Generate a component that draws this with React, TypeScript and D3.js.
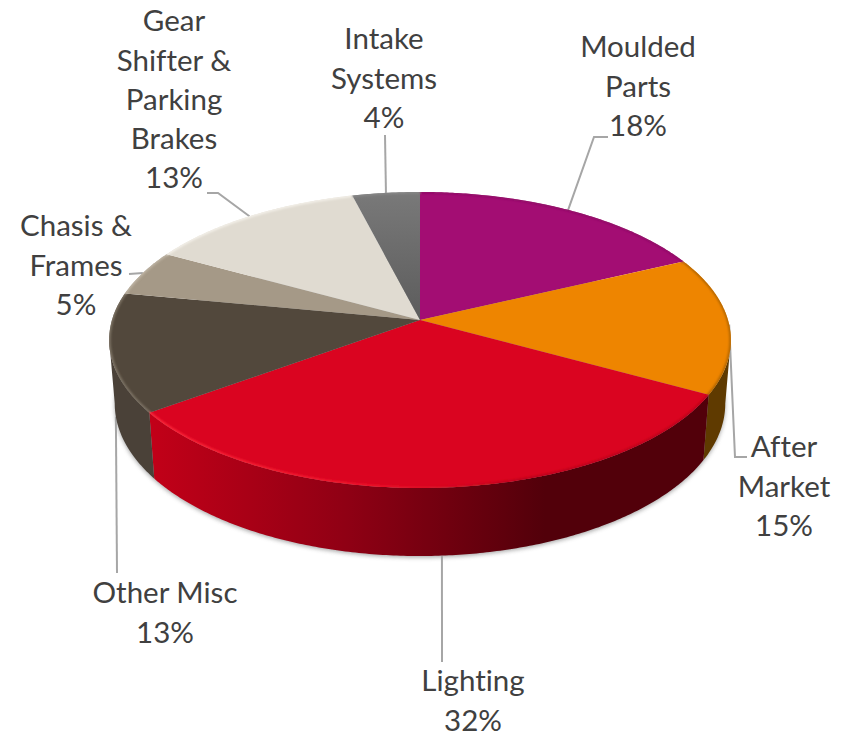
import * as d3 from 'd3';

const categories = ['Moulded Parts', 'After Market', 'Lighting', 'Other Misc', 'Chasis & Frames', 'Gear Shifter & Parking Brakes', 'Intake Systems'];
const shares = [18, 15, 32, 13, 5, 13, 4];

// top face and wall colours, same order as the categories
const topColors = ['#a30d73', '#ee8500', '#da0420', '#52483c', '#a59987', '#e0dbd1', 'url(#intakeGrad)'];
const wallColors = ['#5a0840', '#5f3a00', 'url(#lightingGrad)', '#4a4138', '#6a6054', '#8a8578', '#444'];
const rimColors = ['#8f0c66', '#b06500', 'url(#lightingRim)', '#7f7566', '#c0b6a6', '#f4f1ea', '#888'];

// label lines (centre x, first line centre y) plus the elbow of each leader line
const labelLines = [
  ['Moulded', 'Parts', '18%'],
  ['After', 'Market', '15%'],
  ['Lighting', '32%'],
  ['Other Misc', '13%'],
  ['Chasis &', 'Frames', '5%'],
  ['Gear', 'Shifter &', 'Parking', 'Brakes', '13%'],
  ['Intake', 'Systems', '4%'],
];
const labelX = [638, 784, 473, 165, 76, 174, 384];
const labelY = [47, 447, 681, 593, 226, 21, 39];
const leaderElbows: [number, number][][] = [
  [[594, 137], [608, 137]],
  [[735, 457], [747, 457]],
  [[442, 662]],
  [[117, 573]],
  [[129, 274]],
  [[218, 193], [207, 193]],
  [[385, 135]],
];
const leaderFromBottom = [false, false, true, true, false, false, false];

const width = 848;
const height = 732;
const cx = 420;
const cy = 320;
const k = 0.135;
const radiusX = 308;
const radiusY = 145.3;
const depth = 63.6;
const midY = 340;
const lineGap = 39.2;

// projected position of a rim point on the top face
function topPoint(t: number): [number, number] {
  const w = 1 + k * Math.cos(t);
  return [cx + (radiusX * Math.sin(t)) / w, cy - (radiusY * Math.cos(t)) / w];
}

function bottomPoint(t: number): [number, number] {
  const [x, y] = topPoint(t);
  return [cx + (x - cx) * 0.982, midY + (y - midY) * 1.03 + depth];
}

function sample(a0: number, a1: number) {
  const n = Math.max(2, Math.ceil(Math.abs(a1 - a0) / 0.01));
  return d3.range(n + 1).map(i => a0 + ((a1 - a0) * i) / n);
}

const line = d3.line<[number, number]>();
const wallStart = Math.acos(-k);
const wallEnd = 2 * Math.PI - wallStart;

const arcs = d3.pie<number>().sort(null)(shares);
const fullCircle = sample(0, 2 * Math.PI);

const topPath = (a0: number, a1: number) =>
  line([[cx, cy] as [number, number], ...sample(a0, a1).map(topPoint)]) + 'Z';

function wallPath(a0: number, a1: number) {
  const s = Math.max(a0, wallStart);
  const e = Math.min(a1, wallEnd);
  if (e <= s) return null;
  const ts = sample(s, e);
  return line([...ts.map(topPoint), ...ts.slice().reverse().map(bottomPoint)]) + 'Z';
}

export default function App() {
  return (
    <svg width={width} height={height} style={{ position: 'absolute', left: 0, top: 0 }} fontFamily="Lato, Carlito, sans-serif">
      <defs>
        <linearGradient id="lightingGrad" gradientUnits="userSpaceOnUse" x1={150} x2={545} y1={0} y2={0}>
          <stop offset="0" stopColor="#c20018" />
          <stop offset="0.5" stopColor="#8f0014" />
          <stop offset="1" stopColor="#52000a" />
        </linearGradient>
        <linearGradient id="lightingRim" gradientUnits="userSpaceOnUse" x1={150} x2={520} y1={0} y2={0}>
          <stop offset="0" stopColor="#ff2a3c" />
          <stop offset="0.6" stopColor="#f0182c" />
          <stop offset="1" stopColor="#b8031b" />
        </linearGradient>
        <linearGradient id="intakeGrad" gradientUnits="userSpaceOnUse" x1={0} x2={0} y1={192} y2={320}>
          <stop offset="0" stopColor="#797979" />
          <stop offset="1" stopColor="#5c5c5c" />
        </linearGradient>
        <filter id="soft" x="-10%" y="-10%" width="120%" height="120%">
          <feGaussianBlur stdDeviation="2.2" />
        </filter>
        <filter id="rimBlur" x="-10%" y="-10%" width="120%" height="120%">
          <feGaussianBlur stdDeviation="0.9" />
        </filter>
        <clipPath id="topClip">
          <path d={line(fullCircle.map(topPoint)) + 'Z'} />
        </clipPath>
      </defs>

      {/* soft shadow under the disc */}
      <path
        d={line(fullCircle.map(bottomPoint)) + 'Z'}
        fill="#8a8a8a"
        opacity={0.75}
        transform="translate(0,1.5)"
        filter="url(#soft)"
      />

      {/* leader lines sit behind the pie */}
      <g fill="none" stroke="#a6a6a6" strokeWidth={2}>
        {arcs.map((d, i) => {
          const mid = (d.startAngle + d.endAngle) / 2;
          const start = leaderFromBottom[i] ? bottomPoint(mid) : topPoint(mid);
          return <path key={i} d={line([start, ...leaderElbows[i]]) ?? ''} />;
        })}
      </g>

      {/* walls */}
      <g>
        {arcs.map((d, i) => {
          const p = wallPath(d.startAngle, d.endAngle);
          return p ? <path key={i} d={p} fill={wallColors[i]} /> : null;
        })}
      </g>

      {/* top face */}
      <g>
        {arcs.map((d, i) => (
          <path key={i} d={topPath(d.startAngle, d.endAngle)} fill={topColors[i]} />
        ))}
      </g>

      {/* bevel along the rim */}
      <g clipPath="url(#topClip)" fill="none" strokeWidth={3} filter="url(#rimBlur)">
        {arcs.map((d, i) => (
          <path
            key={i}
            d={line(sample(d.startAngle, d.endAngle).map(topPoint)) ?? ''}
            stroke={rimColors[i]}
          />
        ))}
      </g>

      <g fill="#404040" fontSize={29.5} textAnchor="middle" style={{ fontVariantLigatures: 'none' }}>
        {categories.map((c, i) => (
          <text key={c}>
            {labelLines[i].map((t, j) => (
              <tspan key={j} x={labelX[i]} y={labelY[i] + j * lineGap} dy="0.35em">
                {t}
              </tspan>
            ))}
          </text>
        ))}
      </g>
    </svg>
  );
}
